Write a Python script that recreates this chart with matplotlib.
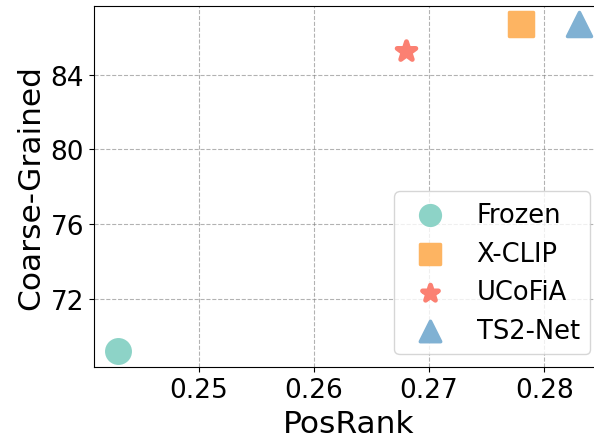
import matplotlib.pyplot as plt

methods = ['Frozen', 'X-CLIP', 'UCoFiA', 'TS2-Net']
posrank = [0.243, 0.278, 0.268, 0.283]
coarse = [69.2, 86.7, 85.25, 86.7]
markers = ['o', 's', '*', '^']
colors = ['#8dd3c7', '#fdb462', '#fb8072', '#80b1d3']
sizes = [320, 300, 200, 300]
edges = [1.5, 2.5, 3.5, 2.5]

fig = plt.figure(figsize=(5.94, 4.39), dpi=100)
ax = fig.add_axes([0.158, 0.161, 0.857, 0.822])

for m, x, y, mk, c, s, lw in zip(methods, posrank, coarse, markers, colors, sizes, edges):
    ax.scatter(x, y, marker=mk, s=s, color=c, edgecolors=c, linewidths=lw,
               joinstyle='round', label=m, zorder=3)

ax.set_xlim(0.2409, 0.2851)
ax.set_ylim(68.35, 87.65)
ax.set_xticks([0.25, 0.26, 0.27, 0.28])
ax.set_yticks([72, 76, 80, 84])
ax.tick_params(labelsize=19)
ax.set_xlabel('PosRank', fontsize=22.5)
ax.set_ylabel('Coarse-Grained', fontsize=22.5)
ax.grid(True, linestyle='--', color='gray', alpha=0.6)

leg = ax.legend(loc='lower right', fontsize=18.5, markerscale=0.85, labelspacing=0.5, handletextpad=0.8)

fig.savefig('out.png', dpi=100)
